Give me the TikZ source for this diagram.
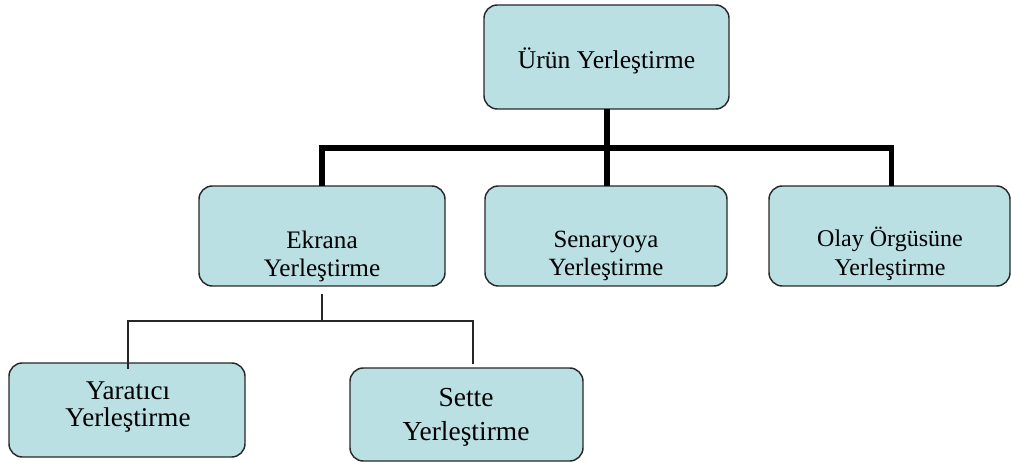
\documentclass[tikz,border=0pt]{standalone}
\usepackage{fontspec}
\setmainfont{Liberation Serif}
\definecolor{boxfill}{RGB}{187,224,227}
\definecolor{boxedge}{RGB}{40,40,40}
\tikzset{
  box/.style={draw=boxedge, line width=1.1pt, fill=boxfill, rounded corners=10pt,
    inner sep=0pt, outer sep=0pt},
  txt/.style={align=center, inner sep=0pt, text=black},
  thickln/.style={line width=3.8pt, draw=black, line join=miter},
  thinln/.style={line width=1.1pt, draw=black!85}
}
\begin{document}
\begin{tikzpicture}[x=0.75pt, y=-0.75pt]
\useasboundingbox (0,0) rectangle (1011,463);
% boxes
\node[box, minimum width=183.75pt, minimum height=78pt] (top) at (606.5,57) {};
\node[box, minimum width=184.5pt, minimum height=75pt] (ekr) at (322,236) {};
\node[box, minimum width=181.5pt, minimum height=75pt] (sen) at (606,236) {};
\node[box, minimum width=180.75pt, minimum height=75pt] (olay) at (889.5,236) {};
\node[box, minimum width=177pt, minimum height=70.5pt] (yar) at (127,410) {};
\node[box, minimum width=174.75pt, minimum height=69.75pt] (set) at (466.5,414.5) {};
% texts
\node[txt, font=\fontsize{19.2}{21}\selectfont] (topt) at (606.5,61) {Ürün Yerleştirme};
\node[txt, font=\fontsize{18.9}{21}\selectfont] (ekrt) at (322,256) {Ekrana\\Yerleştirme};
\node[txt, font=\fontsize{18.6}{21}\selectfont] (sent) at (606,256) {Senaryoya\\Yerleştirme};
\node[txt, font=\fontsize{18}{21.75}\selectfont] (olayt) at (890,254) {Olay Örgüsüne\\Yerleştirme};
\node[txt, font=\fontsize{20.3}{20.5}\selectfont] (yart) at (128,407) {Yaratıcı\\Yerleştirme};
\node[txt, font=\fontsize{20.6}{25.5}\selectfont] (sett) at (466,417) {Sette\\Yerleştirme};
% thick connectors
\coordinate (j1) at (607,148);
\draw[thickln] (top.south -| j1) -- (sen.north -| j1);
\draw[thickln] (ekr.north) |- (j1) -| ([xshift=1.5pt]olay.north);
% thin connectors
\coordinate (j2) at (322,321);
\draw[thinln] ([shift={(0,8)}]ekr.south) -- (j2);
\draw[thinln] ([shift={(1,6)}]yar.north) |- (j2) -| ([shift={(6.5,-4)}]set.north);
\end{tikzpicture}
\end{document}
